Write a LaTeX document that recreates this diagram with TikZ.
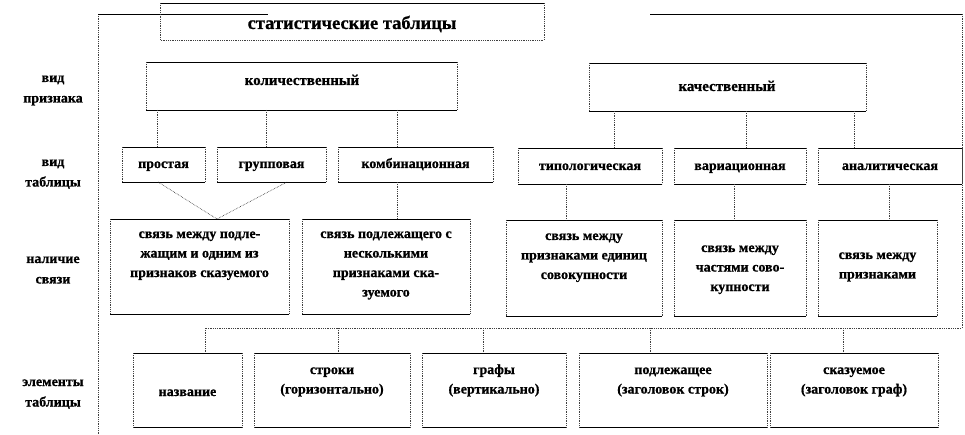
\documentclass[tikz,border=0pt]{standalone}
\usepackage{fontspec}
\setmainfont{Liberation Serif}[BoldFeatures={FakeBold=0.8}]
\usetikzlibrary{fit}
\newcommand\myboxit[1]{%
  \draw[edge] (#1.north west) -- (#1.north east);
  \draw[edge] (#1.south west) -- (#1.south east);
  \draw[side] (#1.north west) -- (#1.south west);
  \draw[side] (#1.north east) -- (#1.south east);}
\begin{document}
\begin{tikzpicture}[x=1pt,y=-1pt,
  bx/.style={inner sep=0pt, outer sep=0pt, draw=none},
  edge/.style={black, line width=0.8pt},
  side/.style={black!75, densely dotted, line width=0.8pt},
  conn/.style={black!75, densely dotted, line width=0.8pt},
  thinconn/.style={black!85, densely dotted, line width=0.6pt},
  txt/.style={font=\bfseries\fontsize{14}{19.5}\selectfont, align=center, inner sep=0pt, anchor=base},
  big/.style={font=\bfseries\fontsize{18.5}{20}\selectfont, inner sep=0pt, anchor=base},
  mid/.style={font=\bfseries\fontsize{15}{17}\selectfont, inner sep=0pt, anchor=base},
  lbl/.style={font=\bfseries\fontsize{14}{20.5}\selectfont, align=center, inner sep=0pt, anchor=base}]
\useasboundingbox (0,0) rectangle (965,435);
% frame
\coordinate (fTL) at (98,14);
\coordinate (fBL) at (98,435);
\coordinate (fT1) at (268,14);
\coordinate (fT2) at (650,14);
\coordinate (fTR) at (962,14);
\coordinate (fBR) at (962,328);
\coordinate (fB1) at (205,328);
\draw[conn] (fTL) -- (fBL);
\draw[edge] (fTL) -- (fT1);
\draw[edge] (fT2) -- (fTR);
\draw[conn] (fTR) -- (fBR) -- (fB1);
% boxes
\node[bx, fit={(160,3) (544,40)}] (title) {};
\node[bx, fit={(146,62) (457,110)}] (kol) {};
\node[bx, fit={(589,63) (866,111)}] (kach) {};
\node[bx, fit={(122,147) (205,182)}] (prost) {};
\node[bx, fit={(217,147) (326,182)}] (grupp) {};
\node[bx, fit={(338,147) (493,182)}] (komb) {};
\node[bx, fit={(518,148) (662,184)}] (tipol) {};
\node[bx, fit={(674,148) (806,184)}] (var) {};
\node[bx, fit={(818,148) (962,184)}] (anal) {};
\node[bx, fit={(110,219) (289,314)}] (sa) {};
\node[bx, fit={(302,219) (470,314)}] (sb) {};
\node[bx, fit={(506,220) (662,316)}] (sc) {};
\node[bx, fit={(674,220) (806,316)}] (sd) {};
\node[bx, fit={(818,220) (937,316)}] (se) {};
\node[bx, fit={(133,353) (242,427)}] (ea) {};
\node[bx, fit={(254,353) (410,427)}] (eb) {};
\node[bx, fit={(422,353) (566,427)}] (ec) {};
\node[bx, fit={(579,353) (767,427)}] (ed) {};
\node[bx, fit={(770,353) (938,427)}] (ee) {};
\foreach \n in {kol,kach,prost,grupp,komb,tipol,var,anal,sa,sb,sc,sd,se,ea,eb,ec,ed,ee}{\myboxit{\n}}
% title box edges
\draw[edge] (title.north west) -- (title.north east);
\draw[side] (title.north west) -- (title.south west) -- (title.south east) -- (title.north east);
% texts (anchor = baseline of last line)
\node[big] (titleT) at (352,29) {статистические таблицы};
\node[mid] (kolT) at (302,85) {количественный};
\node[mid] (kachT) at (727,91) {качественный};
\node[txt] (prostT) at (163.5,168) {простая};
\node[txt] (gruppT) at (271.5,168) {групповая};
\node[txt] (kombT) at (415.5,168) {комбинационная};
\node[txt] (tipolT) at (590,170) {типологическая};
\node[txt] (varT) at (740,170) {вариационная};
\node[txt] (analT) at (890,170) {аналитическая};
\node[txt] (saT) at (199.5,277) {связь между подле-\\жащим и одним из\\признаков сказуемого};
\node[txt] (sbT) at (386,296.5) {связь подлежащего с\\несколькими\\признаками ска-\\зуемого};
\node[txt] (scT) at (584,279) {связь между\\признаками единиц\\совокупности};
\node[txt] (sdT) at (740,291) {связь между\\частями сово-\\купности};
\node[txt] (seT) at (877.5,278.5) {связь между\\признаками};
\node[txt] (eaT) at (187.5,396) {название};
\node[txt] (ebT) at (332,393.5) {строки\\(горизонтально)};
\node[txt] (ecT) at (494,393.5) {графы\\(вертикально)};
\node[txt] (edT) at (673,393.5) {подлежащее\\(заголовок строк)};
\node[txt] (eeT) at (854,393.5) {сказуемое\\(заголовок граф)};
% left labels
\node[lbl] (l1) at (53,102.5) {вид\\признака};
\node[lbl] (l2) at (53,186.5) {вид\\таблицы};
\node[lbl] (l3) at (53,283.5) {наличие\\связи};
\node[lbl] (l4) at (53,406.5) {элементы\\таблицы};
% connector x positions
\coordinate (c1) at (157,0);
\coordinate (c2) at (266,0);
\coordinate (c3) at (397,0);
\coordinate (c4) at (614,0);
\coordinate (c5) at (746,0);
\coordinate (c6) at (854,0);
\coordinate (d3) at (566,0);
\coordinate (d4) at (734,0);
\coordinate (d5) at (889,0);
\coordinate (e2) at (338,0);
\coordinate (e3) at (483,0);
\coordinate (e4) at (650,0);
\coordinate (e5) at (843,0);
\coordinate (pA) at (158,182);
\coordinate (pB) at (287,182);
\coordinate (pM) at (217,219);
\draw[conn] (c1 |- kol.south) -- (c1 |- prost.north);
\draw[conn] (c2 |- kol.south) -- (c2 |- grupp.north);
\draw[conn] (c3 |- kol.south) -- (c3 |- komb.north);
\draw[conn] (c4 |- kach.south) -- (c4 |- tipol.north);
\draw[conn] (c5 |- kach.south) -- (c5 |- var.north);
\draw[conn] (c6 |- kach.south) -- (c6 |- anal.north);
\draw[thinconn] (pA) -- (pM) -- (pB);
\draw[conn] (c3 |- komb.south) -- (c3 |- sb.north);
\draw[conn] (d3 |- tipol.south) -- (d3 |- sc.north);
\draw[conn] (d4 |- var.south) -- (d4 |- sd.north);
\draw[conn] (d5 |- anal.south) -- (d5 |- se.north);
\draw[conn] (fB1) -- (fB1 |- ea.north);
\draw[conn] (e2 |- fB1) -- (e2 |- eb.north);
\draw[conn] (e3 |- fB1) -- (e3 |- ec.north);
\draw[conn] (e4 |- fB1) -- (e4 |- ed.north);
\draw[conn] (e5 |- fB1) -- (e5 |- ee.north);
\end{tikzpicture}
\end{document}
